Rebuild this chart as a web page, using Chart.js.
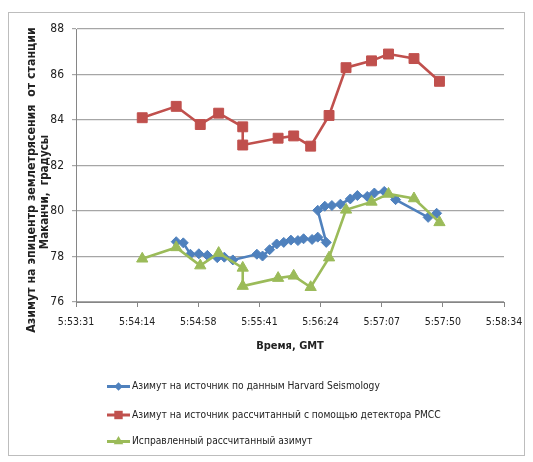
<!DOCTYPE html>
<html>
<head>
<meta charset="utf-8">
<script src="https://cdn.jsdelivr.net/npm/chart.js@4.4.0/dist/chart.umd.min.js"></script>
<style>
  html, body { margin: 0; padding: 0; background: #fff; }
  canvas { display: block; }
</style>
</head>
<body>
<canvas id="chart" width="533" height="462"></canvas>
<script>
// Time axis ticks (GMT), one every 43.2 s starting at 5:53:31.2
const xTickLabels = ['5:53:31', '5:54:14', '5:54:58', '5:55:41', '5:56:24', '5:57:07', '5:57:50', '5:58:34'];
const xStart = 21211.2;
const xStep = 43.2;

// Azimuth from Harvard Seismology
const harvardTimes = ['5:54:42', '5:54:47', '5:54:52', '5:54:58', '5:55:04', '5:55:11', '5:55:16', '5:55:22',
  '5:55:39', '5:55:43', '5:55:48', '5:55:53', '5:55:58', '5:56:03', '5:56:08', '5:56:12', '5:56:18', '5:56:22',
  '5:56:28', '5:56:22', '5:56:27', '5:56:32', '5:56:38', '5:56:45', '5:56:50', '5:56:57', '5:57:02', '5:57:09',
  '5:57:17', '5:57:40', '5:57:46'];
const harvardAzimuth = [78.65, 78.6, 78.1, 78.12, 78.05, 77.95, 77.97, 77.85,
  78.1, 78.02, 78.3, 78.55, 78.62, 78.72, 78.7, 78.78, 78.75, 78.85,
  78.62, 80.03, 80.21, 80.24, 80.3, 80.53, 80.68, 80.64, 80.79, 80.86,
  80.5, 79.72, 79.9];

// PMCC detections: raw and corrected azimuth
const pmccTimes = ['5:54:18', '5:54:42', '5:54:59', '5:55:12', '5:55:29', '5:55:29', '5:55:54', '5:56:05',
  '5:56:17', '5:56:30', '5:56:42', '5:57:00', '5:57:12', '5:57:30', '5:57:48'];
const pmccAzimuth = [84.1, 84.6, 83.8, 84.3, 83.7, 82.9, 83.2, 83.3, 82.85, 84.2, 86.3, 86.6, 86.9, 86.7, 85.7];
const correctedAzimuth = [77.9, 78.4, 77.6, 78.15, 77.5, 76.7, 77.05, 77.15, 76.65, 77.95, 80.05, 80.4, 80.75, 80.55, 79.5];

const seriesLabels = [
  'Азимут на источник по данным Harvard Seismology',
  'Азимут на источник рассчитанный с помощью детектора PMCC',
  'Исправленный рассчитанный азимут'
];
const yTitle = ['Азимут на эпицентр землетрясения  от станции', 'Маканчи,  градусы'];
const xTitle = 'Время, GMT';

const NARROW = '"Liberation Sans Narrow", "DejaVu Sans Condensed", "Liberation Sans", sans-serif';
const TEXT = '#222';

function toSec(t) {
  const [h, m, s] = t.split(':').map(Number);
  return h * 3600 + m * 60 + s;
}
function points(times, values) {
  return times.map((t, i) => ({ x: toSec(t), y: values[i] }));
}

const seriesStyle = [
  { color: '#4F81BD', pointStyle: 'rectRot', radius: 5 },
  { color: '#C0504D', pointStyle: 'rect', radius: 7 },
  { color: '#9BBB59', pointStyle: 'triangle', radius: 6.5 }
];

function dataset(i, data, order) {
  const s = seriesStyle[i];
  return {
    label: seriesLabels[i],
    data,
    showLine: true,
    borderColor: s.color,
    backgroundColor: s.color,
    borderWidth: 2.6,
    pointStyle: s.pointStyle,
    pointRadius: s.radius,
    pointBorderWidth: 1,
    pointBorderColor: s.color,
    pointBackgroundColor: s.color,
    order
  };
}

function drawMarker(ctx, style, r, x, y) {
  ctx.beginPath();
  if (style === 'rect') {
    const h = Math.SQRT1_2 * r;
    ctx.rect(x - h, y - h, 2 * h, 2 * h);
  } else if (style === 'rectRot') {
    ctx.moveTo(x, y - r); ctx.lineTo(x + r, y); ctx.lineTo(x, y + r); ctx.lineTo(x - r, y);
    ctx.closePath();
  } else {
    const a = Math.PI * 2 / 3;
    for (let k = 0; k < 3; k++) {
      const px = x + Math.sin(k * a) * r, py = y - Math.cos(k * a) * r;
      k ? ctx.lineTo(px, py) : ctx.moveTo(px, py);
    }
    ctx.closePath();
  }
  ctx.fill();
}

// Frame, axis titles and the legend under the plot
const decorations = {
  id: 'decorations',
  afterDraw(chart) {
    const ctx = chart.ctx;
    ctx.save();
    ctx.strokeStyle = '#bdbdbd';
    ctx.lineWidth = 1;
    ctx.strokeRect(8.5, 12.5, 516, 443);

    ctx.fillStyle = TEXT;
    ctx.font = 'bold 11px ' + NARROW;
    ctx.textAlign = 'center';
    ctx.textBaseline = 'middle';
    ctx.fillText(xTitle, 290, 346);

    ctx.save();
    ctx.font = 'bold 12.3px ' + NARROW;
    ctx.translate(32, 180);
    ctx.rotate(-Math.PI / 2);
    ctx.fillText(yTitle[0], 0, 0);
    ctx.restore();
    ctx.save();
    ctx.font = 'bold 11.5px ' + NARROW;
    ctx.translate(45, 192);
    ctx.rotate(-Math.PI / 2);
    ctx.fillText(yTitle[1], 0, 0);
    ctx.restore();

    const rows = [386.5, 415, 441.5];
    ctx.font = '10.2px ' + NARROW;
    ctx.textAlign = 'left';
    seriesLabels.forEach((label, i) => {
      const s = seriesStyle[i];
      const y = rows[i];
      ctx.strokeStyle = s.color;
      ctx.fillStyle = s.color;
      ctx.lineWidth = 3;
      ctx.beginPath();
      ctx.moveTo(107, y);
      ctx.lineTo(130, y);
      ctx.stroke();
      drawMarker(ctx, s.pointStyle, s.radius * 0.85, 118.5, y);
      ctx.fillStyle = TEXT;
      ctx.fillText(label, 132, y);
    });
    ctx.restore();
  }
};

new Chart(document.getElementById('chart'), {
  type: 'scatter',
  data: {
    datasets: [
      dataset(0, points(harvardTimes, harvardAzimuth), 3),
      dataset(1, points(pmccTimes, pmccAzimuth), 2),
      dataset(2, points(pmccTimes, correctedAzimuth), 1)
    ]
  },
  options: {
    responsive: false,
    animation: false,
    events: [],
    layout: { padding: { left: 0, top: 29, right: 29, bottom: 130 } },
    plugins: { legend: { display: false }, tooltip: { enabled: false } },
    scales: {
      x: {
        type: 'linear',
        min: xStart,
        max: xStart + (xTickLabels.length - 1) * xStep,
        afterBuildTicks(scale) {
          scale.ticks = xTickLabels.map((_, i) => ({ value: xStart + i * xStep }));
        },
        afterFit(scale) { scale.height = 30; },
        ticks: {
          autoSkip: false,
          maxRotation: 0,
          padding: 9,
          color: TEXT,
          font: { family: NARROW, size: 10.5 },
          callback: (v, i) => xTickLabels[i]
        },
        grid: { drawOnChartArea: false, drawTicks: true, tickLength: 5, color: '#868686' },
        border: { color: '#868686' }
      },
      y: {
        min: 76,
        max: 88,
        afterFit(scale) { scale.width = 76; },
        ticks: {
          stepSize: 2,
          padding: 8,
          color: TEXT,
          font: { family: NARROW, size: 12 }
        },
        grid: { color: '#a6a6a6', tickLength: 4, lineWidth: 1.2 },
        border: { color: '#868686' }
      }
    }
  },
  plugins: [decorations]
});
</script>
</body>
</html>
